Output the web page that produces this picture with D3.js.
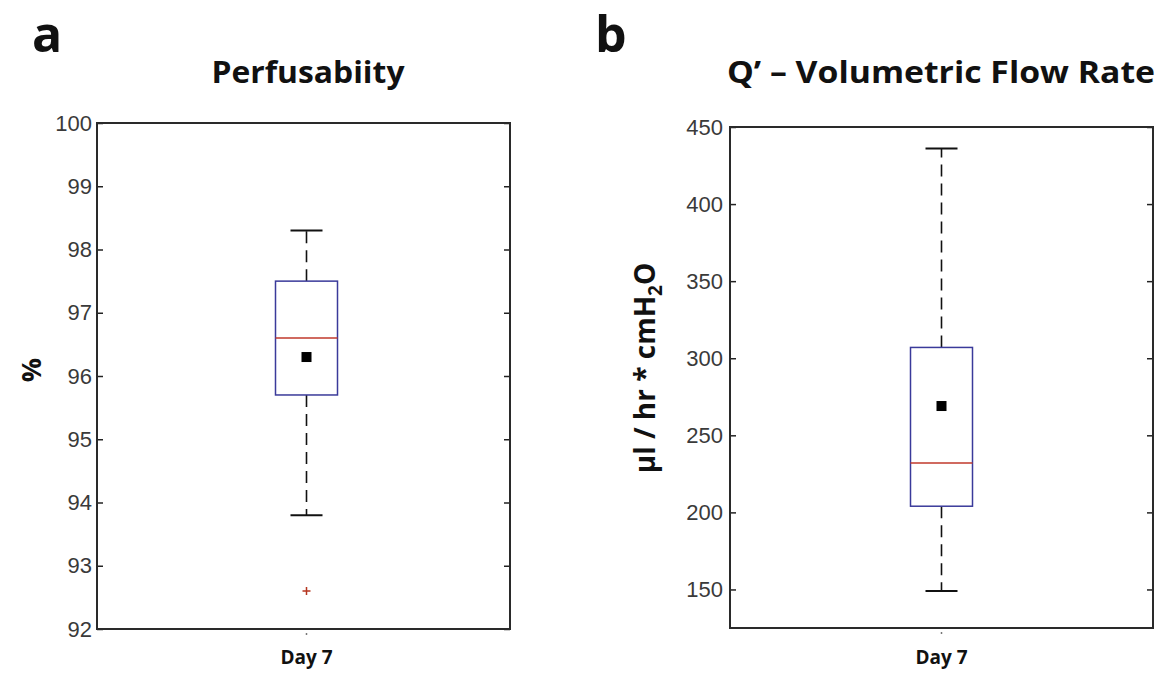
<!DOCTYPE html>
<html lang="en">
  <head>
    <meta charset="utf-8">
    <title>Perfusability and flow rate</title>
    <script src="https://d3js.org/d3.v7.min.js"></script>
    <style>
      body { margin: 0; background: #fff; }
      .tick text { font-family: "Liberation Sans", Arial, sans-serif; font-size: 22px; fill: #3a3a3a; }
      .lbl { font-family: "Open Sans", Lato, sans-serif; font-weight: bold; fill: #111; }
    </style>
  </head>
  <body>
    <script>
      var width = 1159;
      var height = 673;

      // data
      var categories = ["Day 7"];
      // lower whisker, q1, median, q3, upper whisker
      var perfStats = [93.8, 95.7, 96.6, 97.5, 98.3];
      var perfMean = [96.3];
      var perfOutliers = [92.6];
      var perfTicks = [92, 93, 94, 95, 96, 97, 98, 99, 100];

      var flowStats = [149, 204, 232, 307, 436];
      var flowMean = [269];
      var flowOutliers = [];
      var flowTicks = [150, 200, 250, 300, 350, 400, 450];

      var svg = d3.select("body")
        .append("svg")
        .attr("width", width)
        .attr("height", height);

      function drawPanel(o) {
        var g = svg.append("g");
        var x = d3.scaleBand().domain(categories).range([o.left, o.right]);
        var y = d3.scaleLinear().domain(o.domain).range([o.bottom, o.top]);
        var cx = x(categories[0]) + x.bandwidth() / 2 + o.shift;

        g.append("g")
          .attr("transform", `translate(${o.left},0)`)
          .call(d3.axisLeft(y).tickValues(o.ticks).tickSizeInner(-6).tickSizeOuter(0).tickPadding(o.pad))
          .call(a => a.select(".domain").remove())
          .call(a => a.selectAll(".tick line").attr("stroke", "#222").attr("stroke-width", 1.5));

        g.append("g")
          .attr("transform", `translate(${o.right},0)`)
          .call(d3.axisRight(y).tickValues(o.ticks).tickSizeInner(-6).tickSizeOuter(0).tickFormat(""))
          .call(a => a.select(".domain").remove())
          .call(a => a.selectAll(".tick line").attr("stroke", "#222").attr("stroke-width", 1.5));

        // frame
        g.append("rect")
          .attr("x", o.left).attr("y", o.top)
          .attr("width", o.right - o.left).attr("height", o.bottom - o.top)
          .attr("fill", "none").attr("stroke", "#2a2a2a").attr("stroke-width", 2);

        // x tick
        g.append("line")
          .attr("x1", cx).attr("x2", cx)
          .attr("y1", o.bottom + 4).attr("y2", o.bottom + 6)
          .attr("stroke", "#777").attr("stroke-width", 1.5);

        var s = o.stats;
        var bw = 62, cw = 32;

        // whiskers
        g.append("line")
          .attr("x1", cx).attr("x2", cx).attr("y1", y(s[3])).attr("y2", y(s[4]))
          .attr("stroke", "#111").attr("stroke-width", 1.6).attr("stroke-dasharray", "12,7");
        g.append("line")
          .attr("x1", cx).attr("x2", cx).attr("y1", y(s[1])).attr("y2", y(s[0]))
          .attr("stroke", "#111").attr("stroke-width", 1.6).attr("stroke-dasharray", "12,7");
        [s[0], s[4]].forEach(function(v) {
          g.append("line")
            .attr("x1", cx - cw / 2).attr("x2", cx + cw / 2).attr("y1", y(v)).attr("y2", y(v))
            .attr("stroke", "#111").attr("stroke-width", 2);
        });

        // box
        g.append("rect")
          .attr("x", cx - bw / 2).attr("y", y(s[3]))
          .attr("width", bw).attr("height", y(s[1]) - y(s[3]))
          .attr("fill", "#fff").attr("stroke", "#3a3a9a").attr("stroke-width", 1.5);

        g.append("line")
          .attr("x1", cx - bw / 2).attr("x2", cx + bw / 2).attr("y1", y(s[2])).attr("y2", y(s[2]))
          .attr("stroke", "#c0392b").attr("stroke-width", 1.5);

        g.selectAll(".mean").data(o.mean).enter().append("rect")
          .attr("x", cx - 5).attr("y", d => y(d) - 5)
          .attr("width", 10).attr("height", 10).attr("fill", "#000");

        g.selectAll(".out").data(o.outliers).enter().append("path")
          .attr("d", d => `M${cx - 4},${y(d)}H${cx + 4}M${cx},${y(d) - 4}V${y(d) + 4}`)
          .attr("stroke", "#b5351f").attr("stroke-width", 1.5);

        // texts
        g.append("text").attr("class", "lbl")
          .attr("x", cx).attr("y", 664).attr("text-anchor", "middle")
          .style("font-size", "19px").text(categories[0]);

        g.append("text").attr("class", "lbl")
          .attr("x", o.titleX).attr("y", 83).attr("text-anchor", "middle")
          .attr("textLength", o.titleW).attr("lengthAdjust", "spacingAndGlyphs")
          .style("font-size", "31px").text(o.title);

        g.append("text").attr("class", "lbl")
          .attr("x", o.letterX).attr("y", 52)
          .style("font-size", "50px").text(o.letter);

        var yl = g.append("text").attr("class", "lbl")
          .attr("transform", `translate(${o.ylabX},${o.ylabY}) rotate(-90)`)
          .attr("text-anchor", "middle")
          .style("font-size", o.ylabSize + "px");
        o.ylab(yl);
      }

      drawPanel({
        left: 97, right: 510, top: 123, bottom: 629, pad: 5,
        domain: [92, 100], ticks: perfTicks, shift: 3,
        stats: perfStats, mean: perfMean, outliers: perfOutliers,
        title: "Perfusabiity", titleX: 308, titleW: 193, letter: "a", letterX: 32,
        ylabX: 41, ylabY: 370, ylabSize: 27,
        ylab: function(t) { t.text("%"); }
      });

      drawPanel({
        left: 730, right: 1153, top: 127, bottom: 628, pad: 7,
        domain: [125, 450], ticks: flowTicks, shift: 0,
        stats: flowStats, mean: flowMean, outliers: flowOutliers,
        title: "Q\u2019 \u2013 Volumetric Flow Rate", titleX: 941, titleW: 428, letter: "b", letterX: 595,
        ylabX: 655, ylabY: 368, ylabSize: 28,
        ylab: function(t) {
          t.append("tspan").text("\u00b5l / hr * cmH");
          t.append("tspan").attr("dy", 7).style("font-size", "19px").text("2");
          t.append("tspan").attr("dy", -7).text("O");
        }
      });
    </script>
  </body>
</html>
